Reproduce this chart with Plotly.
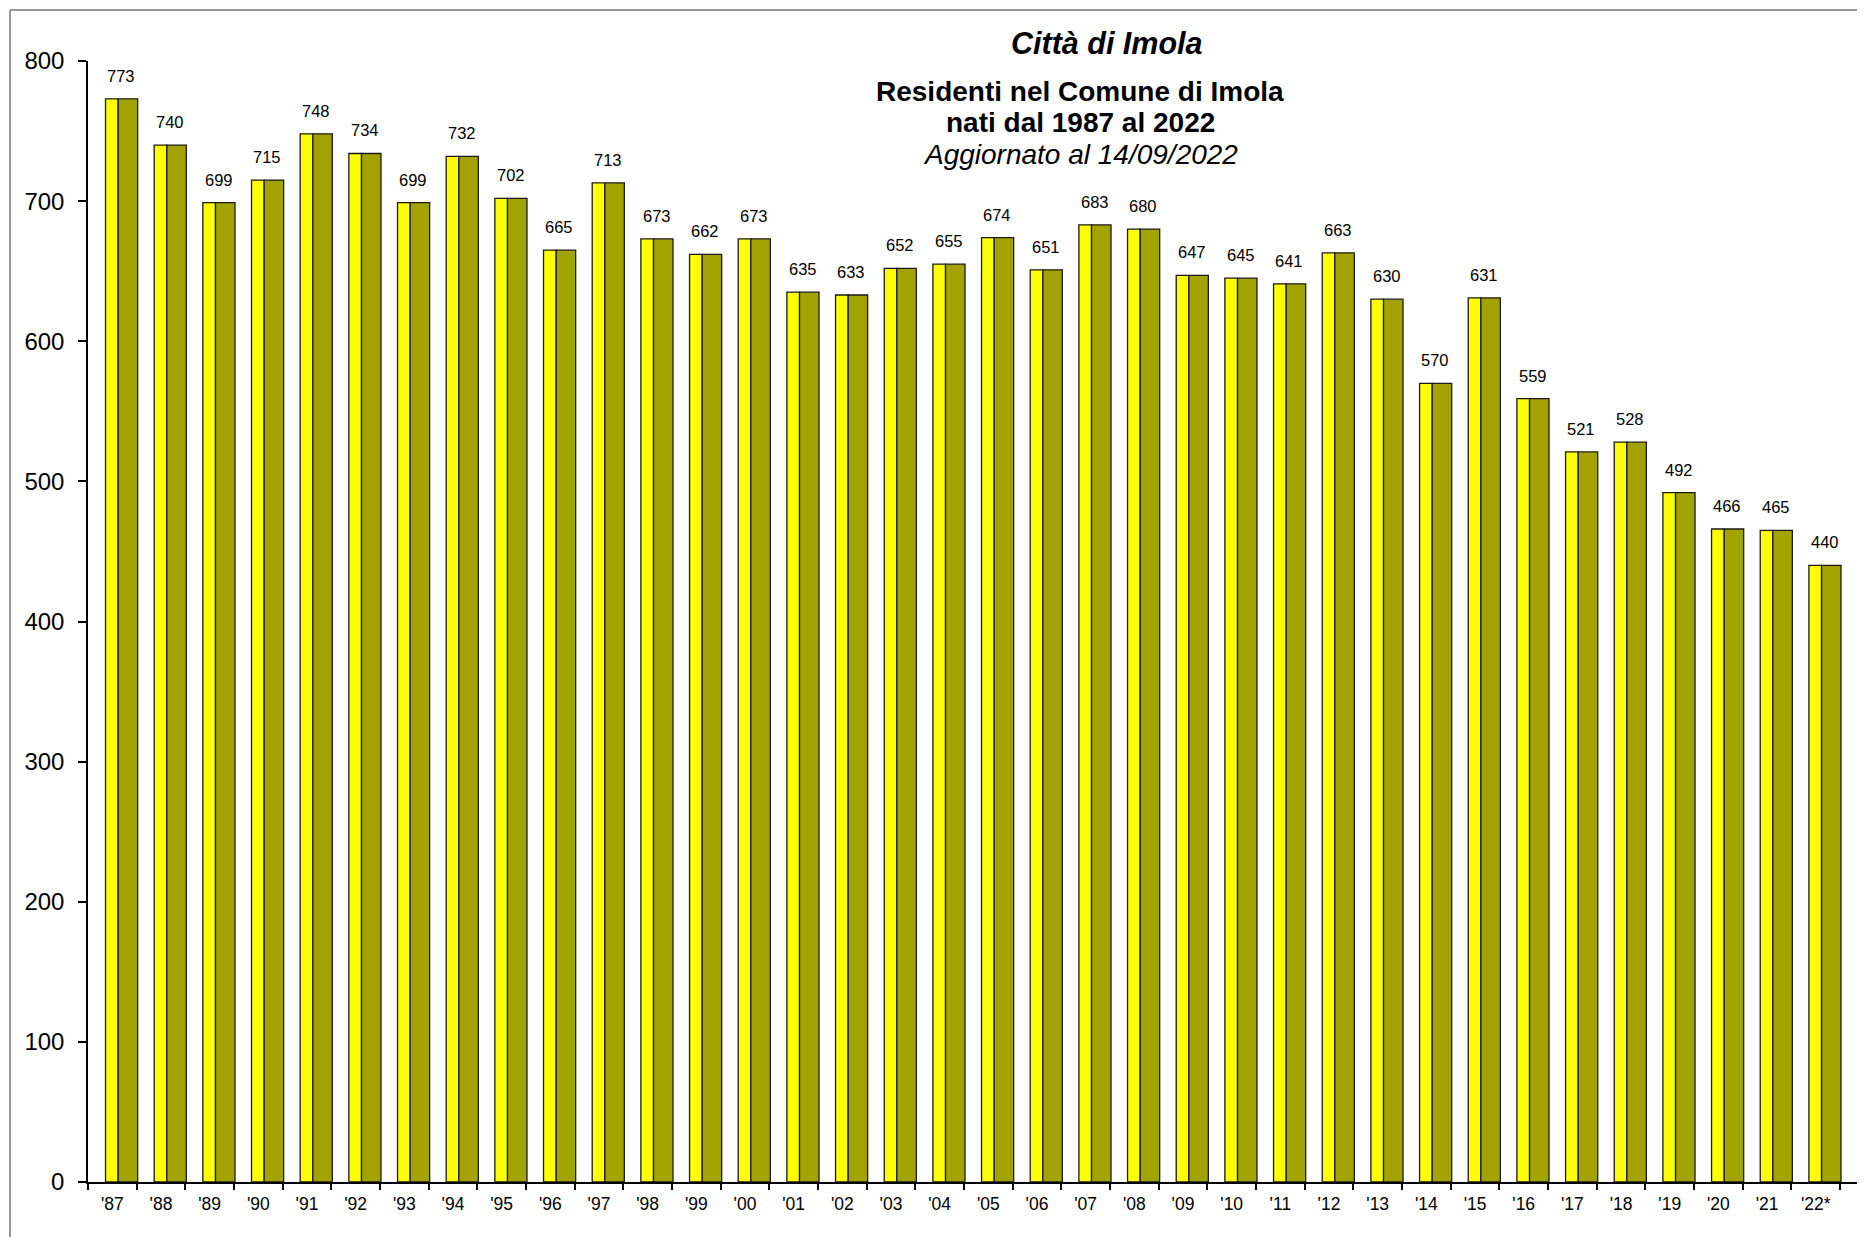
import plotly.graph_objects as go

years = ["'87", "'88", "'89", "'90", "'91", "'92", "'93", "'94", "'95", "'96",
         "'97", "'98", "'99", "'00", "'01", "'02", "'03", "'04", "'05", "'06",
         "'07", "'08", "'09", "'10", "'11", "'12", "'13", "'14", "'15", "'16",
         "'17", "'18", "'19", "'20", "'21", "'22*"]
nati = [773, 740, 699, 715, 748, 734, 699, 732, 702, 665,
        713, 673, 662, 673, 635, 633, 652, 655, 674, 651,
        683, 680, 647, 645, 641, 663, 630, 570, 631, 559,
        521, 528, 492, 466, 465, 440]

title_main = "Città di Imola"
title_sub1 = "Residenti nel Comune di Imola"
title_sub2 = "nati dal 1987 al 2022"
title_sub3 = "Aggiornato al 14/09/2022"

FONT = "Liberation Sans, Arial, sans-serif"

# page body has an 8px margin: work in page pixels, convert to figure pixels
OFF = 8
W, H = 1865 - OFF, 1237 - OFF
L, R, T, B = 88 - OFF, 5, 61 - OFF, 55
pw = W - L - R
ph = H - T - B

fig = go.Figure()
fig.add_trace(go.Bar(x=years, y=nati, offset=-0.14, width=0.26,
                     marker=dict(color="#FFFF00", line=dict(color="#1a1a1a", width=1.3)),
                     hoverinfo="x+y", showlegend=False))
fig.add_trace(go.Bar(x=years, y=nati, offset=0.12, width=0.40,
                     marker=dict(color="#A3A300", line=dict(color="#1a1a1a", width=1.3)),
                     hoverinfo="x+y", showlegend=False))

annotations = []
for yr, v in zip(years, nati):
    annotations.append(dict(x=yr, y=v, xref="x", yref="y", text=str(v), showarrow=False,
                            xshift=9, yshift=12, yanchor="bottom",
                            font=dict(family=FONT, size=16.5, color="#000")))

def py(page_y):
    return (H - B - (page_y - OFF)) / ph

def px(page_x):
    return ((page_x - OFF) - L) / pw

annotations += [
    dict(x=px(1107), y=py(43), xref="paper", yref="paper", text="<b><i>%s</i></b>" % title_main,
         showarrow=False, font=dict(family=FONT, size=30.5, color="#000"), yanchor="middle"),
    dict(x=px(1080), y=py(92), xref="paper", yref="paper", text="<b>%s</b>" % title_sub1,
         showarrow=False, font=dict(family=FONT, size=28, color="#000"), yanchor="middle"),
    dict(x=px(1080), y=py(123), xref="paper", yref="paper", text="<b>%s</b>" % title_sub2,
         showarrow=False, font=dict(family=FONT, size=28, color="#000"), yanchor="middle"),
    dict(x=px(1080), y=py(155), xref="paper", yref="paper", text="<i>%s</i>" % title_sub3,
         showarrow=False, font=dict(family=FONT, size=28, color="#000"), yanchor="middle"),
]

shapes = [
    dict(type="line", xref="paper", yref="paper", x0=px(10), x1=px(1870), y0=py(10), y1=py(10),
         line=dict(color="#777", width=1.5)),
    dict(type="line", xref="paper", yref="paper", x0=px(10), x1=px(10), y0=py(10), y1=py(1245),
         line=dict(color="#777", width=1.5)),
]

fig.update_layout(
    width=W, height=H,
    margin=dict(l=L, r=R, t=T, b=B, pad=0),
    paper_bgcolor="white", plot_bgcolor="white",
    barmode="overlay",
    annotations=annotations, shapes=shapes,
    font=dict(family=FONT, color="#000"),
    xaxis=dict(type="category", range=[-0.5, 35.91], tickson="boundaries",
               ticks="outside", ticklen=6, tickcolor="#000", tickwidth=1.5,
               showline=True, linecolor="#000", linewidth=1.5, showgrid=False,
               tickfont=dict(family=FONT, size=17.5, color="#000"), ticklabelstandoff=5),
    yaxis=dict(range=[0, 800], tickvals=[0, 100, 200, 300, 400, 500, 600, 700, 800],
               ticks="outside", ticklen=8, tickcolor="#000", tickwidth=1.5,
               showline=True, linecolor="#000", linewidth=1.5, showgrid=False, zeroline=False,
               tickfont=dict(family=FONT, size=24, color="#000"), ticklabelstandoff=9),
)

fig.write_html("out.html")
